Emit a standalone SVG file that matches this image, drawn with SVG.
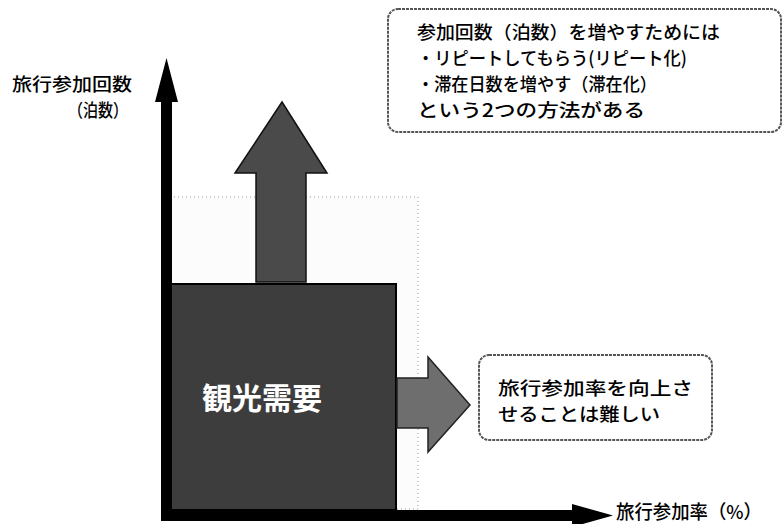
<svg xmlns="http://www.w3.org/2000/svg" width="782" height="524" viewBox="0 0 782 524">
<style>
.t{font-family:"Noto Sans CJK JP","Noto Sans CJK SC",sans-serif;fill:#000;font-weight:500;}
.box{fill:#fff;stroke:#555;stroke-width:2;stroke-dasharray:3 1;}
.ax{fill:#000;stroke:none;}
</style>
<rect x="0" y="0" width="782" height="524" fill="#fff"/>
<g id="bg-area">
<rect x="170" y="197" width="248" height="312" fill="#fcfcfc" stroke="#999" stroke-width="1" stroke-dasharray="1 3"/>
</g>
<g id="up-arrow">
<polygon points="256,282 256,173 235,173 282,102 327,173 306,173 306,282" fill="#4a4a4a" stroke="#111" stroke-width="1.5"/>
</g>
<g id="demand">
<rect x="169" y="284" width="227" height="226" fill="#3d3d3d" stroke="#000" stroke-width="2"/>
<text class="t" x="202" y="409" font-size="30" style="fill:#fff;font-weight:bold" textLength="120" lengthAdjust="spacingAndGlyphs">観光需要</text>
</g>
<g id="right-arrow">
<polygon points="397,378 428,378 428,357 470,405 428,452 428,428 397,428" fill="#6e6e6e" stroke="#222" stroke-width="1.5"/>
</g>
<g id="connectors">
<polygon class="ax" points="161,521 161,102 155,102 166.5,58 178,102 172,102 172,510 572,510 572,504 613,515.5 572,527 572,521"/>
</g>
<g id="y-label">
<text class="t" x="12" y="91" font-size="18" textLength="120" lengthAdjust="spacingAndGlyphs">旅行参加回数</text>
<text class="t" x="68" y="117" font-size="18" textLength="60" lengthAdjust="spacingAndGlyphs">（泊数）</text>
</g>
<g id="x-label">
<text class="t" x="616" y="519" font-size="19" textLength="146" lengthAdjust="spacingAndGlyphs">旅行参加率（%）</text>
</g>
<g id="note-repeat">
<rect class="box" x="388" y="9" width="393" height="123" rx="10"/>
<text class="t" x="417" y="39" font-size="18" textLength="303" lengthAdjust="spacingAndGlyphs">参加回数（泊数）を増やすためには</text>
<text class="t" x="417" y="65" font-size="18" textLength="270" lengthAdjust="spacingAndGlyphs">・リピートしてもらう(リピート化)</text>
<text class="t" x="417" y="91" font-size="18" textLength="240" lengthAdjust="spacingAndGlyphs">・滞在日数を増やす（滞在化）</text>
<text class="t" x="417" y="117" font-size="18" textLength="228" lengthAdjust="spacingAndGlyphs">という2つの方法がある</text>
</g>
<g id="note-rate">
<rect class="box" x="479" y="355" width="233" height="85" rx="10"/>
<text class="t" x="498" y="395" font-size="18" textLength="195" lengthAdjust="spacingAndGlyphs">旅行参加率を向上さ</text>
<text class="t" x="498" y="421" font-size="18" textLength="162" lengthAdjust="spacingAndGlyphs">せることは難しい</text>
</g>
</svg>
